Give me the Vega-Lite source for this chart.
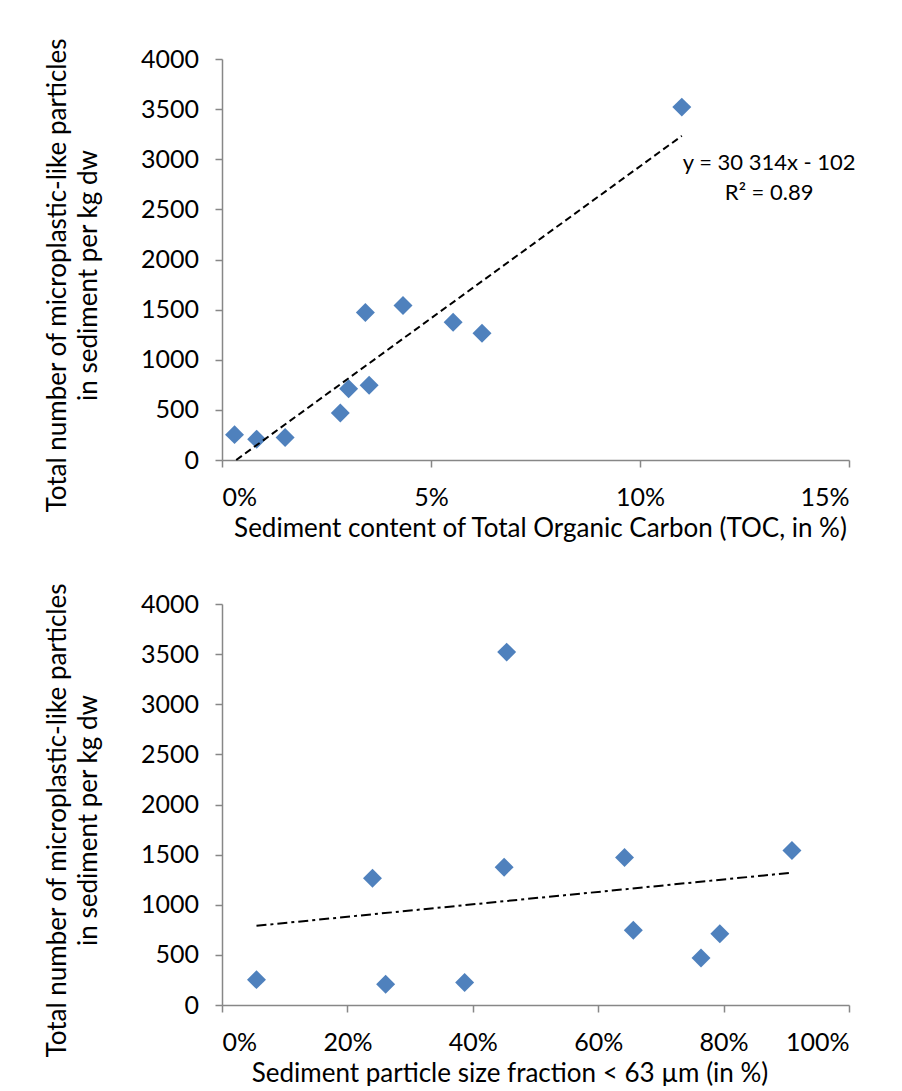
{
  "$schema": "https://vega.github.io/schema/vega-lite/v6.json",
  "background": "white",
  "padding": {"left": 43, "top": 37, "right": 0, "bottom": 0},
  "spacing": 144,
  "bounds": "flush",
  "config": {
    "view": {"stroke": null},
    "font": "Lato",
    "axis": {
      "grid": false,
      "domainColor": "#878787",
      "domainWidth": 1.5,
      "tickColor": "#878787",
      "tickWidth": 1.5,
      "tickSize": 7,
      "labelFont": "Lato",
      "labelFontSize": 25,
      "labelColor": "#000000",
      "titleFont": "Lato",
      "titleFontSize": 26,
      "titleFontWeight": "normal",
      "titleColor": "#000000"
    }
  },
  "datasets": {
    "samples": [
      {"toc": 0.30, "fines": 5.5, "count": 253},
      {"toc": 0.83, "fines": 26.1, "count": 208},
      {"toc": 1.51, "fines": 38.7, "count": 225},
      {"toc": 2.83, "fines": 76.4, "count": 468},
      {"toc": 3.03, "fines": 79.4, "count": 710},
      {"toc": 3.52, "fines": 65.6, "count": 745},
      {"toc": 3.43, "fines": 64.2, "count": 1472},
      {"toc": 4.33, "fines": 90.9, "count": 1541},
      {"toc": 5.53, "fines": 45.0, "count": 1375},
      {"toc": 6.22, "fines": 24.0, "count": 1264},
      {"toc": 11.0, "fines": 45.4, "count": 3520}
    ],
    "tocTrend": [
      {"toc": 0.34, "count": 0},
      {"toc": 11.0, "count": 3233}
    ],
    "finesTrend": [
      {"fines": 5.5, "count": 790},
      {"fines": 90.9, "count": 1320}
    ],
    "tocLabel": [
      {"toc": 13.09, "count": 2963, "label": "y = 30 314x - 102"},
      {"toc": 13.09, "count": 2663, "label": "R² = 0.89"}
    ]
  },
  "vconcat": [
    {
      "width": 627,
      "height": 401,
      "layer": [
        {
          "data": {"name": "samples"},
          "mark": {"type": "point", "shape": "diamond", "filled": true, "size": 360, "color": "#4F81BD", "opacity": 1},
          "encoding": {
            "x": {
              "field": "toc", "type": "quantitative",
              "scale": {"domain": [0, 15], "nice": false},
              "axis": {
                "values": [0, 5, 10, 15],
                "labelExpr": "datum.value + '%'",
                "labelPadding": 18,
                "title": "Sediment content of Total Organic Carbon (TOC, in %)",
                "titleX": 318, "titleY": 68, "titleAlign": "center", "titleBaseline": "middle"
              }
            },
            "y": {
              "field": "count", "type": "quantitative",
              "scale": {"domain": [0, 4000], "nice": false},
              "axis": {
                "values": [0, 500, 1000, 1500, 2000, 2500, 3000, 3500, 4000],
                "format": "d",
                "labelPadding": 16.5,
                "title": ["Total number of microplastic-like particles", "in sediment per kg dw"],
                "titleX": -152, "titleY": 216, "titleAlign": "center", "titleBaseline": "bottom", "titleLineHeight": 31, "titleAngle": 270
              }
            }
          }
        },
        {
          "data": {"name": "tocTrend"},
          "mark": {"type": "line", "color": "#000000", "strokeWidth": 2, "strokeDash": [7, 4]},
          "encoding": {
            "x": {"field": "toc", "type": "quantitative"},
            "y": {"field": "count", "type": "quantitative"}
          }
        },
        {
          "data": {"name": "tocLabel"},
          "mark": {"type": "text", "font": "Lato", "fontSize": 22, "align": "center", "baseline": "middle", "color": "#000000"},
          "encoding": {
            "x": {"field": "toc", "type": "quantitative"},
            "y": {"field": "count", "type": "quantitative"},
            "text": {"field": "label"}
          }
        }
      ]
    },
    {
      "width": 627,
      "height": 401,
      "layer": [
        {
          "data": {"name": "samples"},
          "mark": {"type": "point", "shape": "diamond", "filled": true, "size": 360, "color": "#4F81BD", "opacity": 1},
          "encoding": {
            "x": {
              "field": "fines", "type": "quantitative",
              "scale": {"domain": [0, 100], "nice": false},
              "axis": {
                "values": [0, 20, 40, 60, 80, 100],
                "labelExpr": "datum.value + '%'",
                "labelPadding": 18,
                "title": "Sediment particle size fraction < 63 µm (in %)",
                "titleX": 287.5, "titleY": 68, "titleAlign": "center", "titleBaseline": "middle"
              }
            },
            "y": {
              "field": "count", "type": "quantitative",
              "scale": {"domain": [0, 4000], "nice": false},
              "axis": {
                "values": [0, 500, 1000, 1500, 2000, 2500, 3000, 3500, 4000],
                "format": "d",
                "labelPadding": 16.5,
                "title": ["Total number of microplastic-like particles", "in sediment per kg dw"],
                "titleX": -152, "titleY": 216, "titleAlign": "center", "titleBaseline": "bottom", "titleLineHeight": 31, "titleAngle": 270
              }
            }
          }
        },
        {
          "data": {"name": "finesTrend"},
          "mark": {"type": "line", "color": "#000000", "strokeWidth": 2, "strokeDash": [10, 4, 3, 4]},
          "encoding": {
            "x": {"field": "fines", "type": "quantitative"},
            "y": {"field": "count", "type": "quantitative"}
          }
        }
      ]
    }
  ]
}
